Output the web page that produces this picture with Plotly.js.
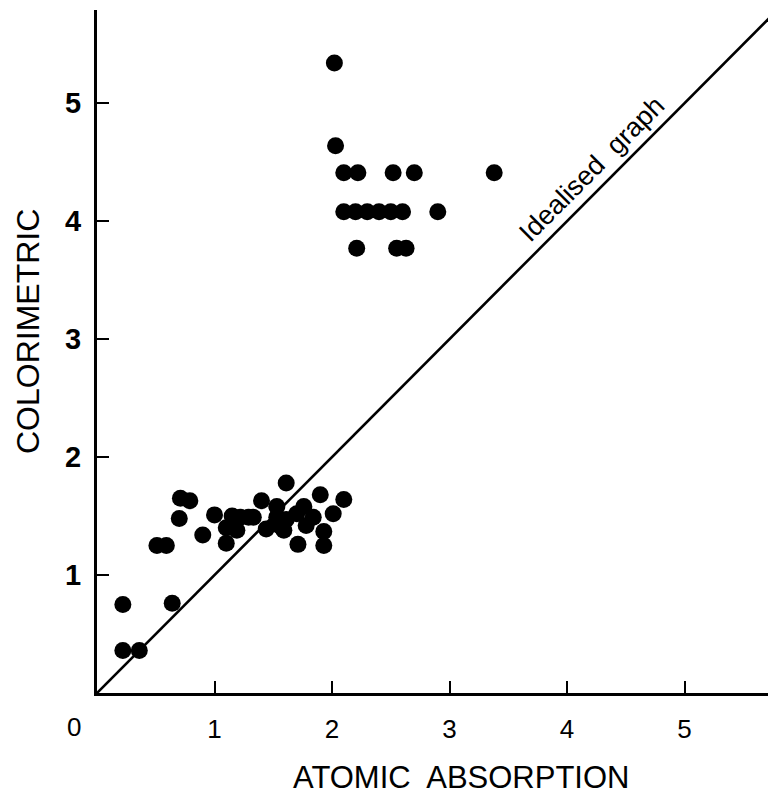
<!DOCTYPE html>
<html>
<head>
<meta charset="utf-8">
<script src="https://cdn.plot.ly/plotly-3.0.1.min.js"></script>
<style>html,body{margin:0;padding:0;background:#fff;}#chart{width:768px;height:794px;}</style>
</head>
<body>
<div id="chart"></div>
<script>
// Lower cluster (atomic absorption, colorimetric)
const lowX = [0.22,0.22,0.36,0.64,0.51,0.59,0.71,0.79,0.70,0.90,1.00,1.10,1.10,1.19,1.22,1.33,1.40,1.44,1.53,1.53,1.61,1.59,1.61,1.70,1.71,1.76,1.78,1.84,1.90,1.93,1.93,2.01,2.10,1.55,1.15,1.29];
const lowY = [0.75,0.36,0.36,0.76,1.25,1.25,1.65,1.63,1.48,1.34,1.51,1.40,1.27,1.38,1.49,1.49,1.63,1.39,1.49,1.58,1.78,1.38,1.47,1.52,1.26,1.58,1.42,1.49,1.68,1.37,1.25,1.52,1.64,1.42,1.50,1.49];
// Upper cluster
const highX = [2.02,2.03,2.10,2.22,2.52,2.70,3.38,2.10,2.20,2.30,2.40,2.50,2.60,2.90,2.21,2.55,2.63];
const highY = [5.34,4.64,4.41,4.41,4.41,4.41,4.41,4.08,4.08,4.08,4.08,4.08,4.08,4.08,3.77,3.77,3.77];
// Idealised graph (y = x)
const lineX = [0, 6];
const lineY = [0, 6];
const xTicks = [1,2,3,4,5];
const yTicks = [1,2,3,4,5];

const FONT = 'Liberation Sans, Arial, sans-serif';
const mk = {color:'#000', size:17, line:{width:0}};
const traces = [
  {x: lineX, y: lineY, mode:'lines', line:{color:'#000', width:2.6}, hoverinfo:'skip', showlegend:false},
  {x: lowX, y: lowY, mode:'markers', marker: mk, showlegend:false},
  {x: highX, y: highY, mode:'markers', marker: mk, showlegend:false}
];

const axisCommon = {
  showgrid:false, zeroline:false, showline:true, linecolor:'#000', linewidth:3,
  ticks:'inside', ticklen:12, tickwidth:2, tickcolor:'#000'
};

const layout = {
  width:768, height:794,
  margin:{l:97, r:0, t:10, b:101},
  paper_bgcolor:'#fff', plot_bgcolor:'#fff',
  xaxis: Object.assign({}, axisCommon, {
    range:[0, 5.71], tickvals:xTicks, ticktext:xTicks.map(String),
    ticklabelstandoff:11,
    tickfont:{family:FONT, size:26, color:'#000'}
  }),
  yaxis: Object.assign({}, axisCommon, {
    range:[0, 5.79], tickvals:yTicks, ticktext:yTicks.map(String),
    ticklabelstandoff:7,
    tickfont:{family:FONT, size:29, color:'#000', weight:'bold'}
  }),
  annotations:[
    {x:(73.5-97)/671, y:-(727-693)/683, xref:'paper', yref:'paper', text:'0', showarrow:false,
     xanchor:'center', yanchor:'middle',
     font:{family:FONT, size:26, color:'#000'}},
    {x:(461-97)/671, y:-(777-693)/683, xref:'paper', yref:'paper', text:'ATOMIC  ABSORPTION', showarrow:false,
     xanchor:'center', yanchor:'middle',
     font:{family:FONT, size:31, color:'#000'}},
    {x:-(97-28)/671, y:(693-332)/683, xref:'paper', yref:'paper', text:'COLORIMETRIC', showarrow:false, textangle:-90,
     xanchor:'center', yanchor:'middle',
     font:{family:FONT, size:32, color:'#000'}},
    {x:4.21, y:4.44, xref:'x', yref:'y', text:'Idealised  graph', showarrow:false, textangle:-45,
     font:{family:FONT, size:27, color:'#000'}}
  ]
};

Plotly.newPlot('chart', traces, layout, {displayModeBar:false, staticPlot:true});
</script>
</body>
</html>
